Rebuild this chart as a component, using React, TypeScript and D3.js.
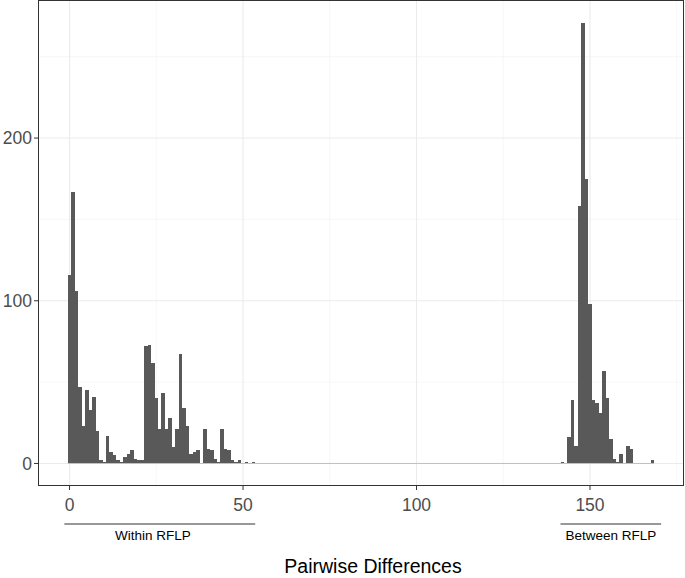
import React, { useEffect, useRef } from 'react';
import { select, scaleLinear } from 'd3';

// histogram counts, one bin per pairwise difference (binwidth 1, centered)
const withinStart = 0;
const withinCounts = [
  116, 167, 106, 47, 23, 45, 33, 41, 20, 2,
  1, 17, 7, 5, 2, 1, 4, 6, 8, 3,
  2, 2, 72, 73, 62, 40, 21, 43, 21, 28,
  10, 21, 67, 34, 23, 6, 7, 8, 0, 21,
  9, 8, 3, 1, 21, 9, 8, 2, 1, 2,
  0, 1, 0, 1,
];
const betweenStart = 142;
const betweenCounts = [
  1, 0, 16, 39, 11, 158, 271, 175, 98, 39,
  37, 31, 57, 40, 15, 3, 1, 6, 0, 11,
  9, 0, 0, 0, 0, 0, 2,
];

const xMajor = [0, 50, 100, 150];
const xMinor = [25, 75, 125, 175];
const yMajor = [0, 100, 200];
const yMinor = [50, 150, 250];

const groups = [
  { label: 'Within RFLP', from: -1.5, to: 53.5, textAt: 24 },
  { label: 'Between RFLP', from: 141.5, to: 170.5, textAt: 156 },
];

const xTitle = 'Pairwise Differences';

const W = 685;
const H = 578;
const FONT = '"Liberation Sans", Arial, Helvetica, sans-serif';

const App = () => {
  const svgRef = useRef(null);

  useEffect(() => {
    const svg = select(svgRef.current);
    svg.selectAll('*').remove();

    const bins = withinCounts
      .map((c, i) => ({ x: withinStart + i, c }))
      .concat(betweenCounts.map((c, i) => ({ x: betweenStart + i, c })));

    const xMin = -0.5;
    const xMax = betweenStart + betweenCounts.length - 0.5;
    const xPad = (xMax - xMin) * 0.05;
    const yMax = Math.max(...bins.map(b => b.c));
    const yPad = yMax * 0.05;

    const left = 38.5, right = 683.5, top = 0.5, bottom = 485.5;

    const xScale = scaleLinear()
      .domain([xMin - xPad, xMax + xPad])
      .range([left, right]);
    const yScale = scaleLinear()
      .domain([-yPad, yMax + yPad])
      .range([bottom, top]);

    const g = svg.append('g');

    // grid
    g.selectAll('.xminor').data(xMinor).join('line')
      .attr('x1', d => xScale(d)).attr('x2', d => xScale(d))
      .attr('y1', top).attr('y2', bottom)
      .attr('stroke', '#f2f2f2').attr('stroke-width', 0.6);
    g.selectAll('.yminor').data(yMinor).join('line')
      .attr('y1', d => yScale(d)).attr('y2', d => yScale(d))
      .attr('x1', left).attr('x2', right)
      .attr('stroke', '#f2f2f2').attr('stroke-width', 0.6);
    g.selectAll('.xmajor').data(xMajor).join('line')
      .attr('x1', d => xScale(d)).attr('x2', d => xScale(d))
      .attr('y1', top).attr('y2', bottom)
      .attr('stroke', '#ebebeb').attr('stroke-width', 1.1);
    g.selectAll('.ymajor').data(yMajor).join('line')
      .attr('y1', d => yScale(d)).attr('y2', d => yScale(d))
      .attr('x1', left).attr('x2', right)
      .attr('stroke', '#ebebeb').attr('stroke-width', 1.1);

    // empty bins show up as a faint baseline
    g.append('line')
      .attr('x1', xScale(xMin)).attr('x2', xScale(xMax))
      .attr('y1', yScale(0)).attr('y2', yScale(0))
      .attr('stroke', '#b5b5b5').attr('stroke-width', 0.8);

    // bars
    g.selectAll('.bar').data(bins.filter(b => b.c > 0)).join('rect')
      .attr('x', d => xScale(d.x - 0.5))
      .attr('width', d => xScale(d.x + 0.5) - xScale(d.x - 0.5))
      .attr('y', d => yScale(d.c))
      .attr('height', d => yScale(0) - yScale(d.c))
      .attr('fill', '#595959')
      .attr('shape-rendering', 'crispEdges');

    // panel border
    g.append('rect')
      .attr('x', left).attr('y', top)
      .attr('width', right - left).attr('height', bottom - top)
      .attr('fill', 'none').attr('stroke', '#333333').attr('stroke-width', 1);

    // y axis
    g.selectAll('.ytick').data(yMajor).join('line')
      .attr('x1', left - 4.5).attr('x2', left)
      .attr('y1', d => yScale(d)).attr('y2', d => yScale(d))
      .attr('stroke', '#333333');
    g.selectAll('.ylab').data(yMajor).join('text')
      .attr('x', left - 6.5).attr('y', d => yScale(d))
      .attr('dy', '0.36em')
      .attr('text-anchor', 'end')
      .attr('font-family', FONT).attr('font-size', 17.5)
      .attr('fill', '#4d4d4d')
      .text(d => d);

    // x axis
    g.selectAll('.xtick').data(xMajor).join('line')
      .attr('y1', bottom).attr('y2', bottom + 4.5)
      .attr('x1', d => xScale(d)).attr('x2', d => xScale(d))
      .attr('stroke', '#333333');
    g.selectAll('.xlab').data(xMajor).join('text')
      .attr('x', d => xScale(d)).attr('y', bottom + 25)
      .attr('text-anchor', 'middle')
      .attr('font-family', FONT).attr('font-size', 17.5)
      .attr('fill', '#4d4d4d')
      .text(d => d);

    // group annotations
    g.selectAll('.gline').data(groups).join('line')
      .attr('x1', d => xScale(d.from)).attr('x2', d => xScale(d.to))
      .attr('y1', 524).attr('y2', 524)
      .attr('stroke', '#333333').attr('stroke-width', 1.2);
    g.selectAll('.glab').data(groups).join('text')
      .attr('x', d => xScale(d.textAt)).attr('y', 540)
      .attr('text-anchor', 'middle')
      .attr('font-family', FONT).attr('font-size', 13.5)
      .attr('fill', '#000')
      .text(d => d.label);

    g.append('text')
      .attr('x', (left + right) / 2 + 12).attr('y', 573)
      .attr('text-anchor', 'middle')
      .attr('font-family', FONT).attr('font-size', 19.5)
      .attr('fill', '#000')
      .text(xTitle);
  }, []);

  return (
    <svg
      ref={svgRef}
      width={W}
      height={H}
      style={{ position: 'absolute', left: 0, top: 0, background: '#fff' }}
    />
  );
};

export default App;
